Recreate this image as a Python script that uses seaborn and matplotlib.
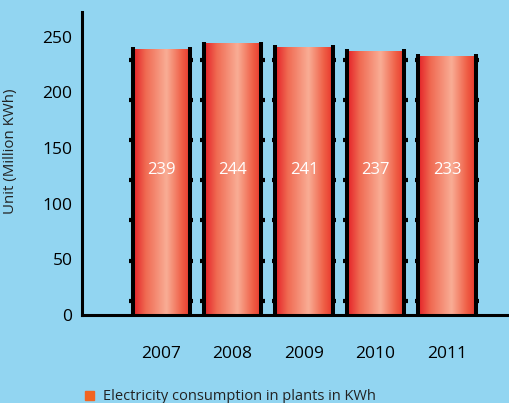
import matplotlib.pyplot as plt
import matplotlib.colors as mcolors
import seaborn as sns
import pandas as pd
import numpy as np

# values
years = ["2007", "2008", "2009", "2010", "2011"]
consumption = [239, 244, 241, 237, 233]
y_ticks = [0, 50, 100, 150, 200, 250]
dash_levels = [13, 49, 85, 121, 157, 193, 229]  # little black ticks beside the bars
legend_label = "Electricity consumption in plants in KWh"

df = pd.DataFrame({"year": years, "value": consumption})

sns.set_style("white")
plt.rcParams["font.family"] = ["Open Sans", "DejaVu Sans"]

bg = "#92d5f1"
fig = plt.figure(figsize=(5.1, 4.03), dpi=100, facecolor=bg)
ax = fig.add_axes([0.161, 0.218, 0.835, 0.752])
ax.set_facecolor(bg)

sns.barplot(data=df, x="year", y="value", color="#ee4a3a", width=0.8,
            saturation=1, ax=ax, zorder=3)

# horizontal gradient on each bar (red - salmon - red)
grad_cmap = mcolors.LinearSegmentedColormap.from_list(
    "bar", [(0, "#e41f26"), (0.22, "#f06a52"), (0.58, "#f9ad95"),
            (0.85, "#ef5e45"), (1, "#e8352b")])
grad = np.linspace(0, 1, 256).reshape(1, -1)
for p in ax.patches:
    x0, w, h = p.get_x(), p.get_width(), p.get_height()
    p.set_facecolor("none")
    p.set_edgecolor("none")
    im = ax.imshow(grad, cmap=grad_cmap, aspect="auto",
                   extent=[x0, x0 + w, 0, h], zorder=3)
    im.set_clip_path(p)
    # black side edges, slightly taller than the bar
    ax.vlines([x0, x0 + w], 0, h + 1.5, color="black", lw=2.9, zorder=4)
    # short dashes beside the edges
    for lv in dash_levels:
        ax.hlines(lv, x0 - 0.05, x0, color="black", lw=3, zorder=4)
        ax.hlines(lv, x0 + w, x0 + w + 0.05, color="black", lw=3, zorder=4)

# value labels inside the bars
for i, v in enumerate(consumption):
    ax.text(i, 130, str(v), ha="center", va="center", color="white",
            fontsize=12, zorder=5)

ax.set_xlim(-1.105, 4.853)
ax.set_ylim(0, 272)
ax.set_yticks(y_ticks)
ax.tick_params(axis="both", length=0, labelsize=12.5, colors="black")
ax.tick_params(axis="x", pad=22)
ax.tick_params(axis="y", pad=7)
ax.set_xlabel("")
ax.set_ylabel("Unit (Million KWh)", fontsize=10.8, color="#222222")
ax.yaxis.set_label_coords(-0.15, 0.54)

for side in ["top", "right"]:
    ax.spines[side].set_visible(False)
for side in ["left", "bottom"]:
    ax.spines[side].set_color("black")
    ax.spines[side].set_linewidth(2.2)
    ax.spines[side].set_zorder(6)

# legend swatch and text at the bottom
fig.patches.append(plt.Rectangle((0.167, 0.007), 0.017, 0.022,
                                 transform=fig.transFigure,
                                 color="#f26522"))
fig.text(0.202, 0.016, legend_label, fontsize=10.5, color="#222222",
         va="center", ha="left")

fig.savefig("out.png", dpi=100, facecolor=bg)
